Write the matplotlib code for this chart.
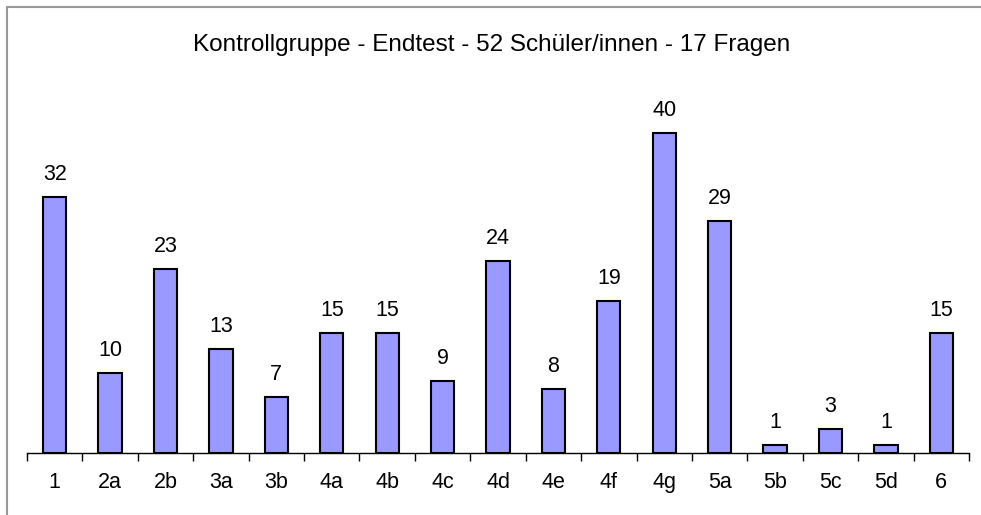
import matplotlib
matplotlib.use("Agg")
import matplotlib.pyplot as plt
from matplotlib.patches import Rectangle

categories = ["1", "2a", "2b", "3a", "3b", "4a", "4b", "4c", "4d", "4e", "4f", "4g", "5a", "5b", "5c", "5d", "6"]
values = [32, 10, 23, 13, 7, 15, 15, 9, 24, 8, 19, 40, 29, 1, 3, 1, 15]
title = "Kontrollgruppe - Endtest - 52 Schüler/innen - 17 Fragen"

plt.rcParams['font.family'] = ['Liberation Sans', 'DejaVu Sans']

W, H = 981, 515
fig = plt.figure(figsize=(W / 100, H / 100), dpi=100)
fig.patch.set_facecolor("white")

# outer border (only left/top visible in the crop)
fig.add_artist(Rectangle((7 / W, -0.1), 1.2, (H - 7) / H + 0.1, transform=fig.transFigure,
                         fill=False, edgecolor="#999999", linewidth=1.5))

ax_left, ax_right = 27 / W, 969 / W
ax_bottom = (H - 453) / H
ax_top = (H - 93) / H
ax = fig.add_axes([ax_left, ax_bottom, ax_right - ax_left, ax_top - ax_bottom])

x = list(range(len(categories)))
ax.bar(x, values, width=0.42, color="#9999FF", edgecolor="black", linewidth=1.5, zorder=3)
for xi, v in zip(x, values):
    ax.annotate(str(v), (xi, v), xytext=(0, 9), textcoords="offset points",
                ha="center", va="bottom", fontsize=15.5)

ax.set_xlim(-0.5, len(categories) - 0.5)
ax.set_ylim(0, 45)
ax.set_xticks(x)
ax.set_xticklabels(categories, fontsize=15.5)
ax.tick_params(axis="x", length=0, pad=14)
ax.set_xticks([i - 0.5 for i in range(len(categories) + 1)], minor=True)
ax.tick_params(axis="x", which="minor", length=6, width=1, color="black", direction="out")
ax.set_yticks([])
for s in ["top", "right", "left"]:
    ax.spines[s].set_visible(False)
ax.spines["bottom"].set_linewidth(1)
ax.patch.set_alpha(0)

fig.text(492 / W, (H - 45) / H, title, ha="center", va="center", fontsize=17.5)

fig.savefig("out.png", dpi=100)
